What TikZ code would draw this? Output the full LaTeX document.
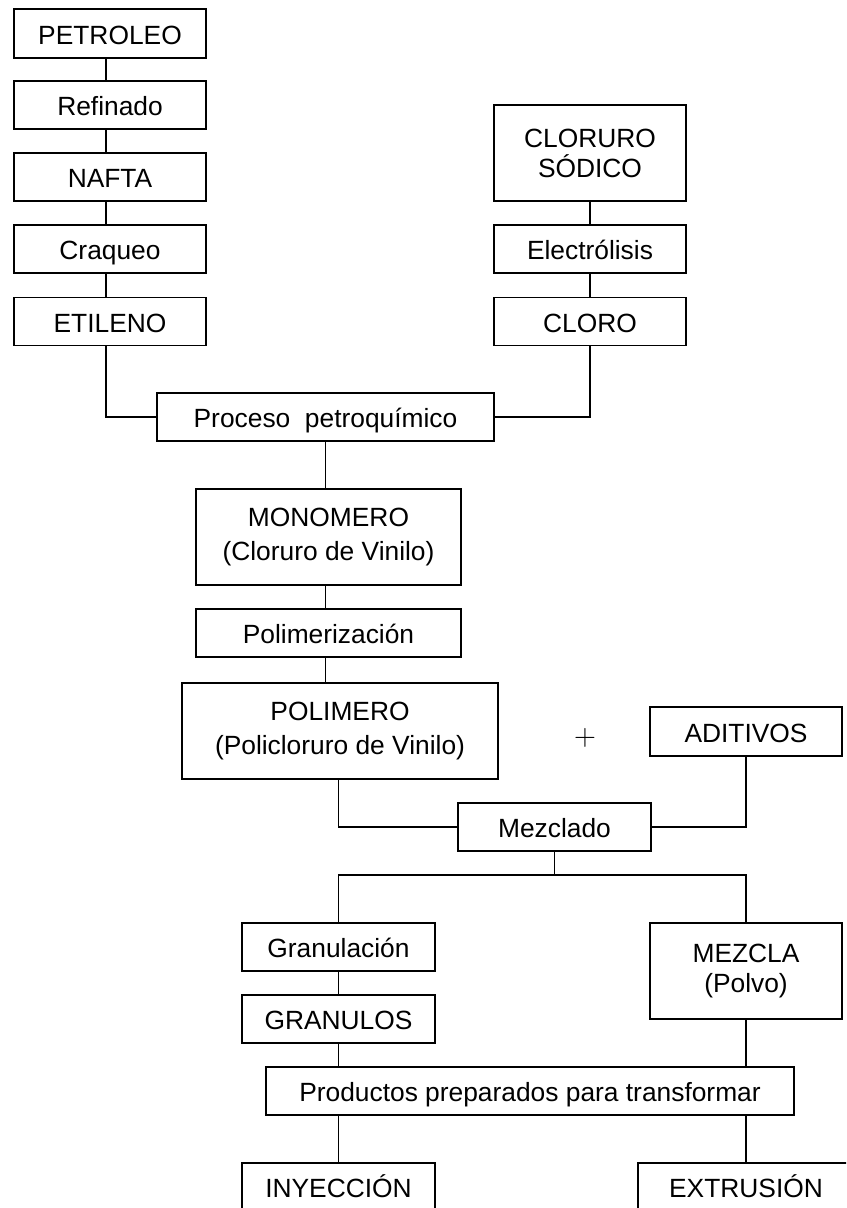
\documentclass[tikz,border=0pt]{standalone}
\usepackage{fontspec}
\setmainfont{Liberation Sans}

\tikzset{
    box/.style={draw, line width=0.7pt, inner sep=0pt, align=center,
        font=\fontsize{15}{17}\selectfont, minimum height=0.96cm,
        text height=12.5pt, text depth=0.5pt},
    tallbox/.style={box, minimum height=1.92cm, text height=, text depth=},
    link/.style={line width=0.7pt}
}

\begin{document}
\begin{tikzpicture}[x=0.02cm, y=-0.02cm]
    \path[use as bounding box, clip] (0,0) rectangle (846,1208);

    \node[box, minimum width=3.84cm, minimum height=0.98cm] (petroleo) at (110,33.5) {PETROLEO};
    \node[box, minimum width=3.84cm] (refinado) at (110,105) {Refinado};
    \node[box, minimum width=3.84cm] (nafta) at (110,177) {NAFTA};
    \node[box, minimum width=3.84cm] (craqueo) at (110,249) {Craqueo};
    \node[box, minimum width=3.84cm] (etileno) at (110,321.5) {ETILENO};

    \node[tallbox, minimum width=3.84cm] (cloruro) at (590,153) {CLORURO\\SÓDICO};
    \node[box, minimum width=3.84cm] (electrolisis) at (590,249) {Electrólisis};
    \node[box, minimum width=3.84cm] (cloro) at (590,321.5) {CLORO};

    \node[box, minimum width=6.74cm] (proceso) at (325.5,417) {Proceso\ \ petroquímico};
    \node[tallbox, minimum width=5.3cm] (monomero) at (328.5,537) {MONOMERO\\[2.5pt](Cloruro de Vinilo)};
    \node[box, minimum width=5.3cm] (polimerizacion) at (328.5,633) {Polimerización};
    \node[tallbox, minimum width=6.32cm] (polimero) at (340,731) {POLIMERO\\[2.5pt](Policloruro de Vinilo)};
    \node[font=\fontsize{17}{19}\selectfont] (mas) at (585,738) {$+$};
    \node[box, minimum width=3.84cm, minimum height=0.98cm] (aditivos) at (746,731.5) {ADITIVOS};

    \node[box, minimum width=3.86cm] (mezclado) at (554.5,827) {Mezclado};
    \node[box, minimum width=3.86cm] (granulacion) at (338.5,947) {Granulación};
    \node[box, minimum width=3.86cm] (granulos) at (338.5,1019) {GRANULOS};
    \node[tallbox, minimum width=3.84cm] (mezcla) at (746,971) {MEZCLA\\(Polvo)};
    \node[box, minimum width=10.56cm] (productos) at (530,1091) {Productos preparados para transformar};
    \node[box, minimum width=3.86cm] (inyeccion) at (338.5,1187) {INYECCIÓN};
    \node[box, minimum width=4.32cm] (extrusion) at (746,1187) {EXTRUSIÓN};

    \coordinate (left) at (106,0);
    \coordinate (split) at (554.5,875);

    \draw[link] (petroleo.south -| left) -- (refinado.north -| left);
    \draw[link] (refinado.south -| left) -- (nafta.north -| left);
    \draw[link] (nafta.south -| left) -- (craqueo.north -| left);
    \draw[link] (craqueo.south -| left) -- (etileno.north -| left);
    \draw[link] (etileno.south -| left) |- (proceso.west);

    \draw[link] (cloruro) -- (electrolisis);
    \draw[link] (electrolisis) -- (cloro);
    \draw[link] (cloro.south) |- (proceso.east);

    \draw[link] (proceso.south) -- (proceso.south |- monomero.north);
    \draw[link] (proceso.south |- monomero.south) -- (proceso.south |- polimerizacion.north);
    \draw[link] (proceso.south |- polimerizacion.south) -- (proceso.south |- polimero.north);

    \draw[link] (polimero.south -| granulacion) |- (mezclado.west);
    \draw[link] (aditivos.south) |- (mezclado.east);
    \draw[link] (mezclado.south) -- (split);
    \draw[link] (granulacion.north) |- (split) -| (mezcla.north);

    \draw[link] (granulacion) -- (granulos);
    \draw[link] (granulos.south) -- (granulos.south |- productos.north);
    \draw[link] (mezcla.south) -- (mezcla.south |- productos.north);
    \draw[link] (inyeccion.north |- productos.south) -- (inyeccion.north);
    \draw[link] (extrusion.north |- productos.south) -- (extrusion.north);
\end{tikzpicture}
\end{document}
